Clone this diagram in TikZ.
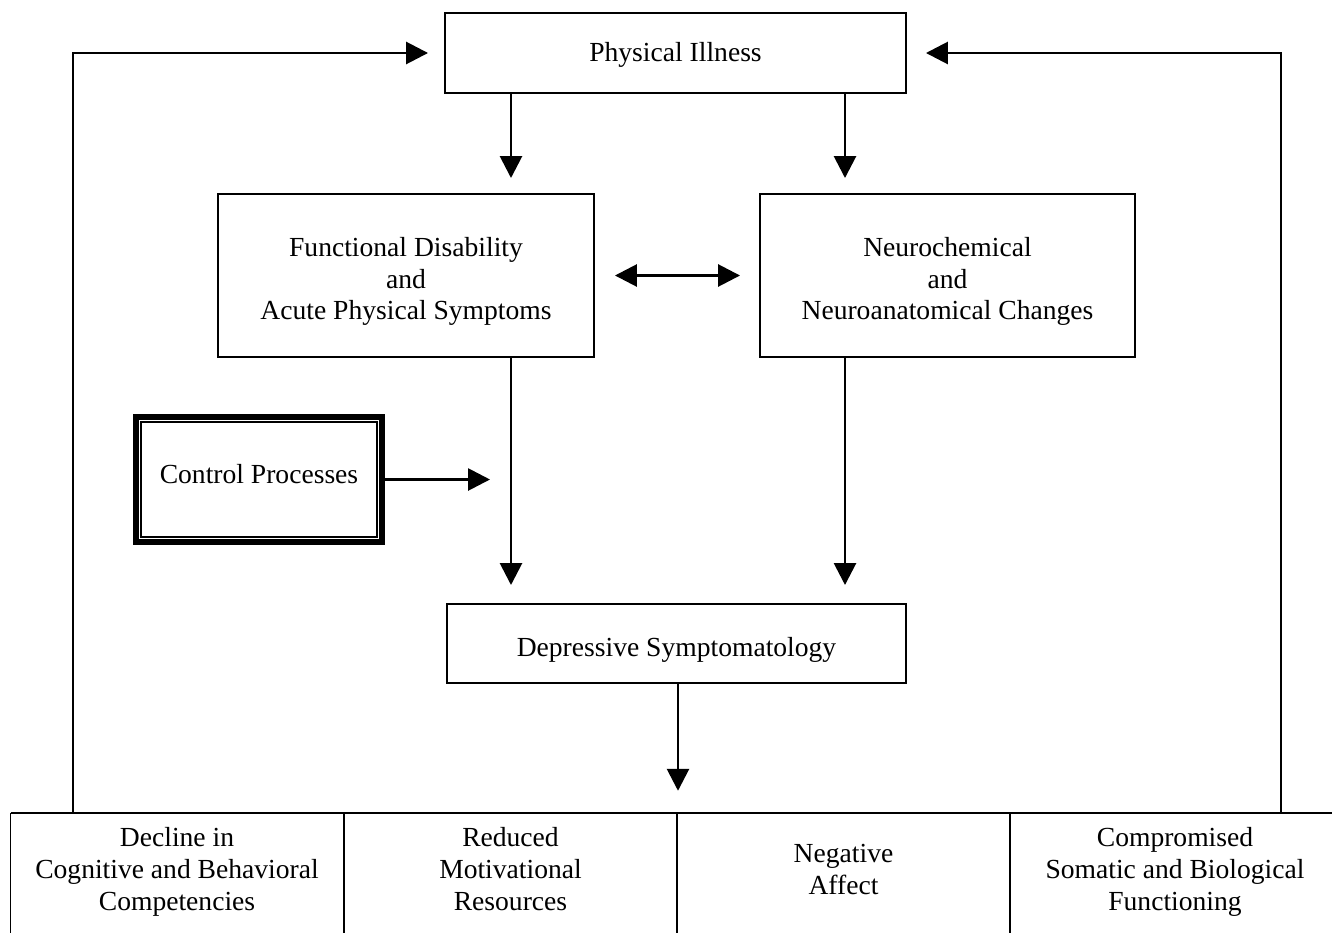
\documentclass[tikz,border=0pt]{standalone}
\usepackage{fontspec}
\setmainfont{Liberation Serif}
\usetikzlibrary{arrows.meta}
\begin{document}
\begin{tikzpicture}[x=0.02cm,
y=-0.02cm,
every node/.style={
rectangle,
align = center,
inner sep=0pt,
outer sep=0pt,
text depth=0pt,
font=\fontsize{15.7}{18.2}\selectfont,
},
box/.style={
draw,
line width=0.85pt,
},
cell/.style={
minimum width=6.66cm,
minimum height=2.32cm,
text height=1.64cm,
},
arr/.style={
line width=1.6pt,
-{Triangle[length=4.4mm,width=4.4mm]},
},
dbl/.style={
line width=1.6pt,
{Triangle[length=4.4mm,width=4.4mm]}-{Triangle[length=4.4mm,width=4.4mm]},
}]

\path[use as bounding box,clip] (0,0) rectangle (1332,933);

%column x of the arrows
\coordinate (lx) at (511,0);
\coordinate (rx) at (845,0);
\coordinate (mx) at (678,0);
\coordinate (fbl) at (73,53);
\coordinate (fbr) at (1281,53);

%boxes
\node[box,minimum width=9.22cm,minimum height=1.6cm,text height=0.36cm] (ill) at (675.5,53) {Physical Illness};
\node[box,minimum width=7.52cm,minimum height=3.26cm,text height=1.78cm] (fda) at (406,275.5) {Functional Disability\\and\\Acute Physical Symptoms};
\node[box,minimum width=7.5cm,minimum height=3.26cm,text height=1.78cm] (neu) at (947.5,275.5) {Neurochemical\\and\\Neuroanatomical Changes};
\node[draw,line width=3.4pt,minimum width=4.92cm,minimum height=2.5cm,text height=0.16cm] (ctl) at (259,479.5) {Control Processes};
\draw[line width=0.6pt] ([shift={(5,5)}]ctl.north west) rectangle ([shift={(-5,-5)}]ctl.south east);
\node[box,minimum width=9.18cm,minimum height=1.58cm,text height=0.5cm] (dep) at (676.5,643.5) {Depressive Symptomatology};

%bottom row, cut at the page edge
\node[cell] (dec) at (177,869) {Decline in\\Cognitive and Behavioral\\Competencies};
\node[cell] (red) at (510.5,869) {Reduced\\Motivational\\Resources};
\node[cell,text height=1cm] (neg) at (843.5,869) {Negative\\Affect};
\node[cell,minimum width=6.6cm] (som) at (1175,869) {Compromised\\Somatic and Biological\\Functioning};
\draw[line width=0.85pt] ([yshift=-1]dec.north west) -- ([yshift=-1]som.north east);
\foreach \c in {dec,red,neg,som}
\draw[line width=0.85pt] ([yshift=-1]\c.north west) -- ++(0,140);

%arrows
\draw[arr,shorten >=3.2mm] (ill.south -| lx) -- (fda.north -| lx);
\draw[arr,shorten >=3.2mm] (ill.south -| rx) -- (neu.north -| rx);
\draw[dbl,shorten <=4.2mm,shorten >=4mm] (fda) -- (neu);
\draw[arr,shorten >=3.8mm] (fda.south -| lx) -- (dep.north -| lx);
\draw[arr,shorten >=3.8mm] (neu.south -| rx) -- (dep.north -| rx);
\draw[arr,shorten >=4.2mm] (ctl.east) -- (ctl.east -| lx);
\draw[arr,shorten >=4.4mm] (dep.south -| mx) -- ([yshift=-1]neg.north -| mx);

%feedback
\draw[arr,shorten >=3.4mm] ([yshift=-1]dec.north -| fbl) |- (ill.west);
\draw[arr,shorten >=4mm] ([yshift=-1]som.north -| fbr) |- (ill.east);
\end{tikzpicture}
\end{document}
